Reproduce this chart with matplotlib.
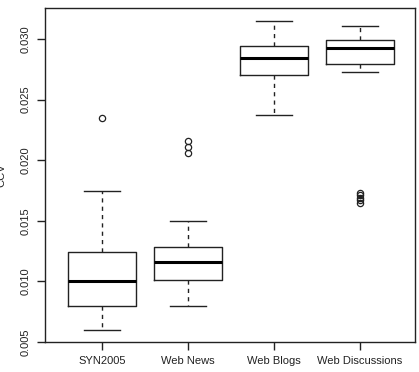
import matplotlib
matplotlib.use('Agg')
import matplotlib.pyplot as plt

# box statistics
groups = ['SYN2005', 'Web News', 'Web Blogs', 'Web Discussions']
whislo = [0.0060, 0.0080, 0.0237, 0.0273]
q1 = [0.0080, 0.0101, 0.0270, 0.0279]
med = [0.0100, 0.0116, 0.0284, 0.0293]
q3 = [0.0124, 0.0128, 0.0294, 0.0299]
whishi = [0.0175, 0.0150, 0.0315, 0.0311]
fliers = [
    [0.0235],
    [0.0216, 0.0211, 0.0206],
    [],
    [0.0173, 0.0171, 0.0169, 0.0167, 0.0165],
]
yticks = [0.005, 0.010, 0.015, 0.020, 0.025, 0.030]

plt.rcParams['font.family'] = ['Liberation Sans', 'DejaVu Sans']

stats = []
for i, g in enumerate(groups):
    stats.append({'label': g, 'whislo': whislo[i], 'q1': q1[i], 'med': med[i],
                  'q3': q3[i], 'whishi': whishi[i], 'fliers': fliers[i]})

fig = plt.figure(figsize=(4.19, 3.72), dpi=100)
ax = fig.add_axes([45 / 419, 30 / 372, 370 / 419, 334 / 372])

ax.bxp(stats, positions=[1, 2, 3, 4], widths=0.8,
       boxprops=dict(color='#222222', linewidth=1.0),
       whiskerprops=dict(color='#222222', linewidth=1.0, linestyle=(0, (3, 3))),
       capprops=dict(color='#222222', linewidth=1.0),
       medianprops=dict(color='black', linewidth=2.2),
       flierprops=dict(marker='o', markerfacecolor='none', markeredgecolor='#222222',
                       markersize=4.5, markeredgewidth=0.9),
       capwidths=0.42)

ax.set_xlim(0.337, 4.64)
ax.set_ylim(0.005, 0.03256)
ax.set_yticks(yticks)
ax.set_yticklabels(['%.3f' % v for v in yticks], rotation=90, va='center')
ax.set_xticks([1, 2, 3, 4])
ax.set_xticklabels(groups)
ax.tick_params(axis='both', direction='out', length=6, width=1.0, labelsize=8,
               colors='#222222', pad=4)
for s in ax.spines.values():
    s.set_linewidth(1.0)
    s.set_color('#222222')

ax.set_ylabel('CCV', fontsize=8, color='#222222')
ax.yaxis.set_label_coords(-0.105, 0.5)

fig.savefig('out.png', dpi=100)
